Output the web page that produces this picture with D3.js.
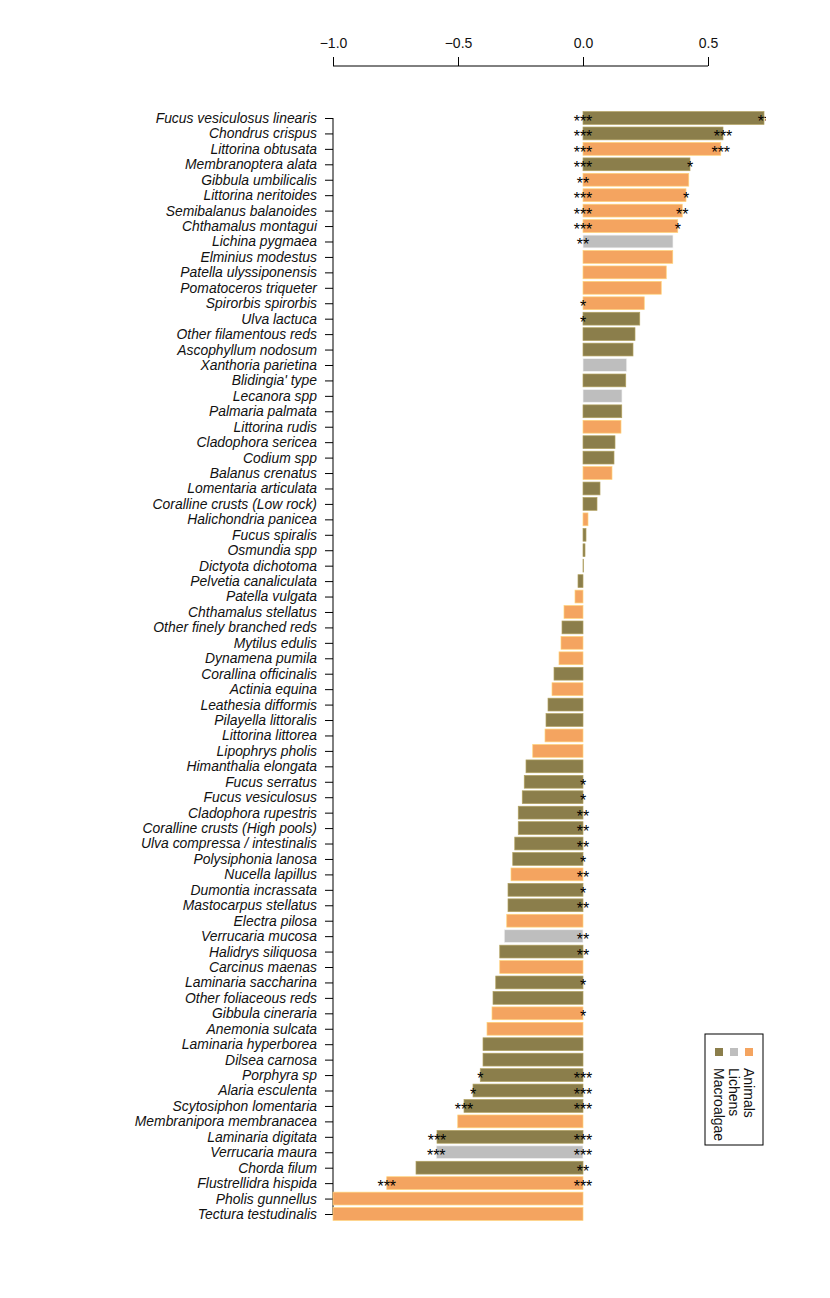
<!DOCTYPE html>
<html>
<head>
<meta charset="utf-8">
<script src="https://cdn.jsdelivr.net/npm/d3@7"></script>
<style>
  body { margin: 0; background: #fff; }
  svg { display: block; font-family: "Liberation Sans", Arial, sans-serif; }
</style>
</head>
<body>
<svg id="chart" width="830" height="1298"></svg>
<script>
// species, top to bottom
const species = [
  "Fucus vesiculosus linearis", "Chondrus crispus", "Littorina obtusata", "Membranoptera alata",
  "Gibbula umbilicalis", "Littorina neritoides", "Semibalanus balanoides", "Chthamalus montagui",
  "Lichina pygmaea", "Elminius modestus", "Patella ulyssiponensis", "Pomatoceros triqueter",
  "Spirorbis spirorbis", "Ulva lactuca", "Other filamentous reds", "Ascophyllum nodosum",
  "Xanthoria parietina", "Blidingia' type", "Lecanora spp", "Palmaria palmata",
  "Littorina rudis", "Cladophora sericea", "Codium spp", "Balanus crenatus",
  "Lomentaria articulata", "Coralline crusts (Low rock)", "Halichondria panicea", "Fucus spiralis",
  "Osmundia spp", "Dictyota dichotoma", "Pelvetia canaliculata", "Patella vulgata",
  "Chthamalus stellatus", "Other finely branched reds", "Mytilus edulis", "Dynamena pumila",
  "Corallina officinalis", "Actinia equina", "Leathesia difformis", "Pilayella littoralis",
  "Littorina littorea", "Lipophrys pholis", "Himanthalia elongata", "Fucus serratus",
  "Fucus vesiculosus", "Cladophora rupestris", "Coralline crusts (High pools)", "Ulva compressa / intestinalis",
  "Polysiphonia lanosa", "Nucella lapillus", "Dumontia incrassata", "Mastocarpus stellatus",
  "Electra pilosa", "Verrucaria mucosa", "Halidrys siliquosa", "Carcinus maenas",
  "Laminaria saccharina", "Other foliaceous reds", "Gibbula cineraria", "Anemonia sulcata",
  "Laminaria hyperborea", "Dilsea carnosa", "Porphyra sp", "Alaria esculenta",
  "Scytosiphon lomentaria", "Membranipora membranacea", "Laminaria digitata", "Verrucaria maura",
  "Chorda filum", "Flustrellidra hispida", "Pholis gunnellus", "Tectura testudinalis"
];

const values = [
  0.724, 0.560, 0.551, 0.428, 0.423, 0.412, 0.397, 0.379,
  0.360, 0.359, 0.333, 0.313, 0.245, 0.227, 0.208, 0.200,
  0.175, 0.171, 0.156, 0.155, 0.152, 0.128, 0.124, 0.116,
  0.068, 0.056, 0.020, 0.012, 0.008, 0.002, -0.020, -0.032,
  -0.076, -0.084, -0.088, -0.096, -0.116, -0.124, -0.140, -0.148,
  -0.152, -0.201, -0.228, -0.235, -0.243, -0.259, -0.259, -0.273,
  -0.281, -0.288, -0.300, -0.300, -0.305, -0.315, -0.333, -0.333,
  -0.349, -0.360, -0.364, -0.384, -0.400, -0.400, -0.411, -0.440,
  -0.476, -0.501, -0.584, -0.587, -0.668, -0.785, -1.000, -1.000
];

const groups = [
  "M","M","A","M","A","A","A","A","L","A","A","A","A","M","M","M",
  "L","M","L","M","A","M","M","A","M","M","A","M","M","M","M","A",
  "A","M","A","A","M","A","M","M","A","A","M","M","M","M","M","M",
  "M","A","M","M","A","L","M","A","M","M","A","A","M","M","M","M",
  "M","A","M","L","M","A","A","A"
];

// significance marks drawn at zero and at the bar end
const starsZero = [
  "***","***","***","***","**","***","***","***","**","","","","*","*","","",
  "","","","","","","","","","","","","","","","",
  "","","","","","","","","","","","*","*","**","**","**",
  "*","**","*","**","","**","**","","*","","*","","","","***","***",
  "***","","***","***","**","***","",""
];
const starsEnd = [
  "**","***","***","*","","*","**","*","","","","","","","","",
  "","","","","","","","","","","","","","","","",
  "","","","","","","","","","","","","","","","",
  "","","","","","","","","","","","","","","*","*",
  "***","","***","***","","***","",""
];

const legendLabels = ["Animals", "Lichens", "Macroalgae"];
const legendKeys = ["A", "L", "M"];
const xTicks = [-1, -0.5, 0, 0.5];

const colour = d3.scaleOrdinal()
  .domain(["M", "L", "A"])
  .range(["#8b7e4b", "#bebebe", "#f4a460"]);

const svg = d3.select("#chart");

const x = d3.scaleLinear().domain([-1, 0.724]).range([333, 764]);
const y = d3.scalePoint().domain(species).range([118, 1214]);
const barH = y.step() * 0.83;

const rows = species.map((s, i) => ({
  name: s, value: values[i], group: groups[i], z: starsZero[i], e: starsEnd[i]
}));

// top axis
const xAxis = svg.append("g")
  .attr("transform", "translate(0,66)")
  .call(d3.axisTop(x).tickValues(xTicks).tickFormat(d3.format(".1f")).tickSize(9));
xAxis.select(".domain").remove();
xAxis.append("line")
  .attr("x1", x(-1)).attr("x2", x(0.5))
  .attr("stroke", "#000");
xAxis.selectAll("text")
  .attr("font-size", 14)
  .attr("fill", "#111")
  .attr("font-family", "'Liberation Sans', Arial, sans-serif")
  .attr("dy", "-6");

// left axis with species names
const yAxis = svg.append("g")
  .attr("transform", `translate(${x(-1)},0)`)
  .call(d3.axisLeft(y).tickSize(8).tickSizeOuter(0).tickPadding(8));
yAxis.select(".domain").attr("d", `M0,${y(species[0])}V${y(species[species.length - 1])}`);
yAxis.selectAll("text")
  .attr("font-size", 13.9)
  .attr("font-style", "italic")
  .attr("fill", "#111")
  .attr("font-family", "'Liberation Sans', Arial, sans-serif");

// bars
svg.append("g")
  .selectAll("rect")
  .data(rows)
  .join("rect")
  .attr("x", d => x(Math.min(0, d.value)))
  .attr("y", d => y(d.name) - barH / 2)
  .attr("width", d => Math.abs(x(d.value) - x(0)))
  .attr("height", barH)
  .attr("fill", d => colour(d.group))
  .attr("stroke", d => d3.color(colour(d.group)).brighter(0.7))
  .attr("stroke-width", 0.7);

// stars, clipped to plot region
svg.append("clipPath").attr("id", "plotclip")
  .append("rect")
  .attr("x", x(-1)).attr("y", 90)
  .attr("width", x(0.724) - x(-1) + 2).attr("height", 1150);

const stars = svg.append("g").attr("clip-path", "url(#plotclip)")
  .attr("font-size", 16)
  .attr("text-anchor", "middle")
  .attr("fill", "#000");

stars.selectAll("text.z")
  .data(rows.filter(d => d.z))
  .join("text")
  .attr("class", "z")
  .attr("x", x(0))
  .attr("y", d => y(d.name) + 9)
  .text(d => d.z);

stars.selectAll("text.e")
  .data(rows.filter(d => d.e))
  .join("text")
  .attr("class", "e")
  .attr("x", d => x(d.value))
  .attr("y", d => y(d.name) + 9)
  .text(d => d.e);

// legend (rotated)
const lg = svg.append("g").attr("transform", "translate(705,1034)");
lg.append("rect")
  .attr("width", 58).attr("height", 111)
  .attr("fill", "none").attr("stroke", "#000").attr("stroke-width", 1);

const lx = d3.scalePoint().domain(legendKeys).range([749, 719]);
legendKeys.forEach((k, i) => {
  svg.append("rect")
    .attr("x", lx(k) - 4).attr("y", 1048)
    .attr("width", 8).attr("height", 8)
    .attr("fill", colour(k));
  svg.append("text")
    .attr("transform", `translate(${lx(k) - 5},1068) rotate(90)`)
    .attr("font-size", 14)
    .attr("fill", "#111")
    .text(legendLabels[i]);
});
</script>
</body>
</html>
